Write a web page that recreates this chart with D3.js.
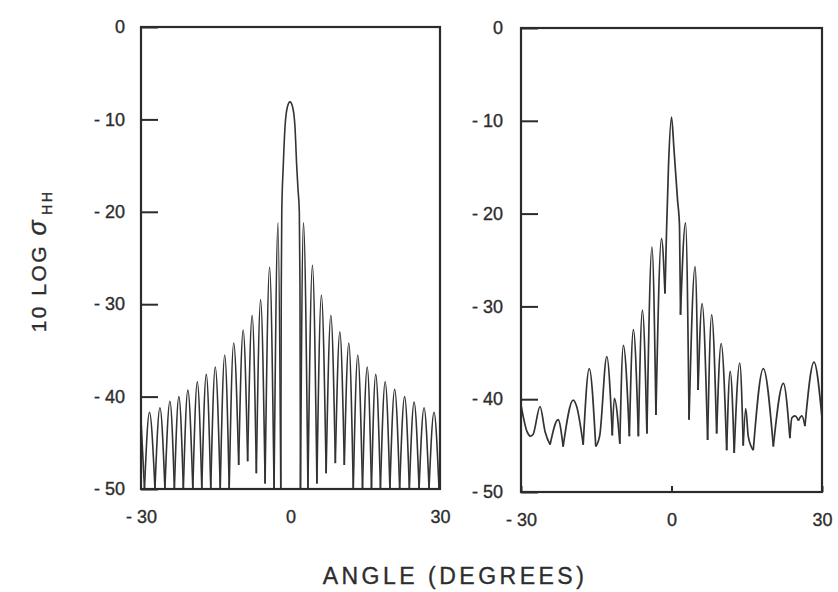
<!DOCTYPE html>
<meta charset="utf-8">
<style>
body, html {
  margin: 0;
  padding: 0;
  background: #fff;
}
svg text {
  font-family: "Liberation Sans", Arial, Helvetica, sans-serif;
  fill: #2d2d2d;
  stroke: #2d2d2d;
  stroke-width: 0.35px;
}
.tick text {
  font-size: 18px;
}
.tick line {
  stroke: #2b2b2b;
  stroke-width: 2px;
}
.frame {
  fill: none;
  stroke: #2b2b2b;
  stroke-width: 2.2px;
}
.trace {
  fill: none;
  stroke: #333;
  stroke-linejoin: round;
}
</style>
<div id="chart"></div>
<script src="https://d3js.org/d3.v7.min.js"></script>
<script>
// left panel: computed pattern (peaks and nulls)
const calcAngle = [-30, -29.3, -28.3, -27.2, -26.2, -25.2, -24.2, -23.3, -22.4, -21.5, -20.6,
  -19.6, -18.7, -17.8, -16.9, -16.0, -15.1, -14.1, -13.2, -12.3, -11.4, -10.4, -9.5, -8.6,
  -7.7, -6.85, -6.0, -5.1, -4.2, -3.3, -2.5, -1.95,
  -1.85, -1.75, -1.45, -1.1, -0.6, -0.1, 0.4, 0.9, 1.24, 1.5, 1.77, 1.9,
  2.0, 2.6, 3.5, 4.4, 5.3, 6.2, 7.15, 8.1, 9.0, 9.9, 10.8, 11.7, 12.6, 13.5, 14.45, 15.4,
  16.25, 17.1, 18.05, 19.0, 19.95, 20.9, 21.9, 22.9, 23.85, 24.8, 25.8, 26.8, 27.8, 28.8, 29.8, 30];
const calcDb = [-42.5, -50, -41.7, -50, -41.2, -50, -40.5, -50, -40.0, -50, -39.3,
  -50, -38.4, -50, -37.6, -50, -36.8, -50, -35.5, -50, -34.2, -47.4, -32.8, -47.0,
  -31.2, -48.3, -29.5, -49.4, -26.0, -50, -21.2, -50,
  -28, -20, -15, -10.8, -8.6, -8.1, -8.6, -10.8, -15, -17.5, -20, -28,
  -50, -21.2, -50, -25.8, -49.4, -29.0, -48.3, -31.2, -47.2, -33.0, -47.4, -34.2, -50, -35.5, -50, -36.8,
  -50, -37.6, -50, -38.4, -50, -39.2, -50, -40.0, -50, -40.6, -50, -41.2, -50, -41.7, -50, -46];

// right panel: measured pattern
const measAngle = [-30, -28.8, -28.2, -27.6, -26.2, -25.2, -24.2, -22.6, -21.6, -19.6, -18.9,
  -17.6, -16.4, -15.1, -14.3, -12.9, -11.8, -11.4, -10.3, -9.6, -8.4, -7.6, -6.6, -5.8, -4.9,
  -3.9, -3.1, -2.0, -1.3, -1.0, -0.6, 0.0, 0.5, 1.2, 1.6, 1.8, 2.8, 3.5, 4.7, 5.3, 6.1, 7.2,
  8.0, 9.0, 9.9, 11.0, 11.7, 12.5, 13.6, 14.3, 14.8, 15.3, 16.3, 18.3, 20.3, 22.3, 23.6, 24.0,
  24.6, 25.3, 26.0, 26.6, 28.4, 30.0];
const measDb = [-40.6, -43.5, -44.0, -43.8, -40.8, -43.5, -44.9, -42.2, -45.1, -40.1, -40.8,
  -44.9, -36.7, -45.1, -43.9, -35.4, -43.9, -39.9, -44.8, -34.2, -44.0, -32.5, -44.0, -30.4, -43.7,
  -23.6, -41.7, -22.7, -28.6, -22.1, -14.9, -9.6, -13.1, -18.5, -21.4, -30.9, -21.0, -42.2, -25.7, -39.0, -29.7, -44.4,
  -30.9, -43.7, -34.0, -45.5, -37.0, -45.8, -36.1, -45.0, -41.0, -44.0, -45.5, -36.7, -45.1, -38.3, -44.2, -42.0,
  -41.8, -42.3, -41.8, -42.9, -36.0, -42.0];

const yTicks = [0, -10, -20, -30, -40, -50];
const xTicks = [-30, 0, 30];

const width = 838, height = 592;
const svg = d3.select("#chart").append("svg")
    .attr("width", width)
    .attr("height", height);

const panels = [
  {id: "calc", x0: 141, x1: 440, y0: 27, y1: 489, angle: calcAngle, db: calcDb, sw: 1.6, yPad: 16, zeroTick: 0},
  {id: "meas", x0: 521, x1: 822, y0: 28, y1: 492, angle: measAngle, db: measDb, sw: 1.7, yPad: 18, zeroTick: 6}
];

const fmt = d => d < 0 ? "- " + Math.abs(d) : String(d);

// split a trace at its local minima so every lobe is smooth on top and sharp at the nulls
function lobes(pts) {
  const cuts = [0];
  for (let i = 1; i < pts.length - 1; i++) {
    if (pts[i][1] < pts[i - 1][1] && pts[i][1] <= pts[i + 1][1]) cuts.push(i);
  }
  cuts.push(pts.length - 1);
  const out = [];
  for (let i = 0; i < cuts.length - 1; i++) out.push(pts.slice(cuts[i], cuts[i + 1] + 1));
  return out;
}

panels.forEach(p => {
  const x = d3.scaleLinear().domain([-30, 30]).range([p.x0, p.x1]);
  const y = d3.scaleLinear().domain([-50, 0]).range([p.y1, p.y0]);
  const g = svg.append("g");

  g.append("clipPath").attr("id", "clip-" + p.id)
    .append("rect")
      .attr("x", p.x0).attr("y", p.y0)
      .attr("width", p.x1 - p.x0).attr("height", p.y1 - p.y0);

  const pts = p.angle.map((a, i) => [a, p.db[i]]);
  const line = d3.line()
      .x(d => x(d[0]))
      .y(d => y(d[1]))
      .curve(d3.curveMonotoneX);

  g.append("g")
      .attr("clip-path", "url(#clip-" + p.id + ")")
    .selectAll("path")
    .data(lobes(pts))
    .enter().append("path")
      .attr("class", "trace")
      .attr("stroke-width", p.sw)
      .attr("d", line);

  const yAxis = g.append("g")
      .attr("transform", "translate(" + p.x0 + ",0)")
      .call(d3.axisLeft(y).tickValues(yTicks).tickSize(-17).tickPadding(p.yPad).tickFormat(fmt));
  yAxis.select(".domain").remove();

  const xAxis = g.append("g")
      .attr("transform", "translate(0," + p.y1 + ")")
      .call(d3.axisBottom(x).tickValues(xTicks).tickSize(-p.zeroTick).tickPadding(21).tickFormat(fmt));
  xAxis.select(".domain").remove();

  g.append("rect")
      .attr("class", "frame")
      .attr("x", p.x0).attr("y", p.y0)
      .attr("width", p.x1 - p.x0).attr("height", p.y1 - p.y0);
});

// axis titles
const yl = svg.append("text")
    .attr("transform", "translate(46,261) rotate(-90)")
    .attr("text-anchor", "middle")
    .style("letter-spacing", "2.5px")
    .style("font-size", "21px");
yl.append("tspan").text("10 LOG ");
yl.append("tspan").style("font-size", "25px").style("font-style", "italic").text("σ");
yl.append("tspan").attr("dx", 3).attr("dy", 6).style("font-size", "14px").text("HH");

svg.append("text")
    .attr("x", 455)
    .attr("y", 584)
    .attr("text-anchor", "middle")
    .style("font-size", "23px")
    .style("letter-spacing", "3.5px")
    .text("ANGLE (DEGREES)");
</script>
